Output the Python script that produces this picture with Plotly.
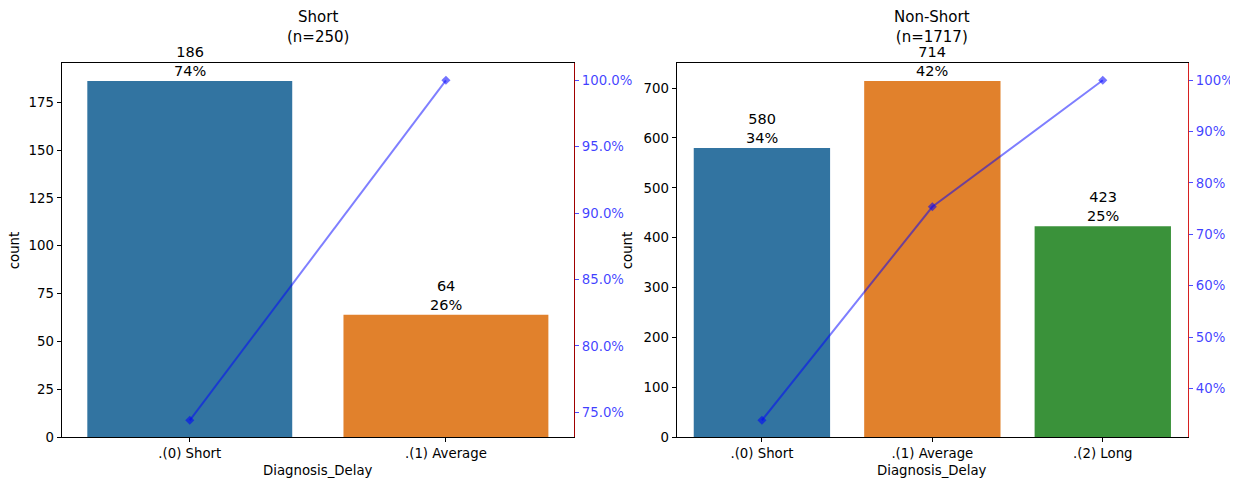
import numpy as np
import plotly.graph_objects as go

# ---- data ----
left_title = "Short"
left_categories = [".(0) Short", ".(1) Average"]
left_counts = [186, 64]

right_title = "Non-Short"
right_categories = [".(0) Short", ".(1) Average", ".(2) Long"]
right_counts = [580, 714, 423]

bar_colors = ["#3274a1", "#e1812c", "#3a923a"]
x_label = "Diagnosis_Delay"
y_label = "count"

FONT = "DejaVu Sans"
OFF = 8  # page body margin
W, H = 1238 - OFF, 483 - OFF

# plot area pixel boxes in page coords (left, top, right, bottom)
boxes = [(61.7, 63.3, 574.0, 437.3), (676.7, 63.3, 1188.0, 437.3)]


def fx(p):
    return (p - OFF) / W


def fy(p):
    return (H - (p - OFF)) / H


fig = go.Figure()
annotations = []

panels = [
    (left_title, left_categories, left_counts, ".1%", 0.05, 25, "#a00000"),
    (right_title, right_categories, right_counts, ".0%", 0.10, 100, "#d62020"),
]

for i, (title, cats, counts, fmt, dtick, ydtick, spine_col) in enumerate(panels):
    counts = np.array(counts)
    total = counts.sum()
    shares = counts / total
    cum = np.cumsum(counts) / total
    xa = "x" if i == 0 else "x2"
    ya = "y" if i == 0 else "y3"
    ya2 = "y2" if i == 0 else "y4"
    n = len(cats)

    fig.add_trace(go.Bar(
        x=cats, y=counts, marker=dict(color=bar_colors[:n], line=dict(width=0)),
        width=0.8, xaxis=xa, yaxis=ya, showlegend=False, hoverinfo="x+y",
    ))
    fig.add_trace(go.Scatter(
        x=cats, y=cum, mode="lines+markers", xaxis=xa, yaxis=ya2,
        line=dict(color="rgba(0,0,255,0.5)", width=2),
        marker=dict(symbol="diamond", size=7, color="rgba(0,0,255,0.55)",
                    line=dict(width=0)),
        showlegend=False,
    ))

    for c, v, s in zip(cats, counts, shares):
        annotations.append(dict(
            x=c, y=v, xref=xa, yref=ya, text=f"{v}<br>{s:.0%}",
            showarrow=False, yanchor="bottom", xanchor="center",
            font=dict(family=FONT, size=14.5, color="black"), yshift=0,
        ))

    l, t, r, b = boxes[i]
    cx = (l + r) / 2
    annotations.append(dict(
        x=fx(cx), y=fy(27), xref="paper", yref="paper",
        text=f"{title}<br>(n={total})", showarrow=False, yanchor="middle",
        xanchor="center", font=dict(family=FONT, size=15, color="black"),
        borderpad=0,
    ))
    annotations.append(dict(
        x=fx(cx), y=fy(470), xref="paper", yref="paper",
        text=x_label, showarrow=False, yanchor="middle", xanchor="center",
        font=dict(family=FONT, size=13.3, color="black"),
    ))
    ycount_x = 14 if i == 0 else 627
    annotations.append(dict(
        x=fx(ycount_x), y=fy((t + b) / 2), xref="paper", yref="paper",
        text=y_label, showarrow=False, textangle=-90, yanchor="middle",
        xanchor="center", font=dict(family=FONT, size=13.3, color="black"),
        borderpad=0,
    ))

    ymax = counts.max() * 1.05
    lo, hi = cum.min(), cum.max()
    pad = (hi - lo) * 0.05
    xkey = "xaxis" if i == 0 else "xaxis2"
    ykey = "yaxis" if i == 0 else "yaxis3"
    y2key = "yaxis2" if i == 0 else "yaxis4"
    fig.layout[xkey] = dict(
        domain=[fx(l), fx(r)], anchor=ya, type="category", automargin=False,
        range=[-0.5, n - 0.5], showline=True, mirror=True, linecolor="black",
        linewidth=1.2, ticks="outside", ticklen=4, tickcolor="black",
        tickfont=dict(family=FONT, size=13.3, color="black"), showgrid=False,
        zeroline=False,
    )
    fig.layout[ykey] = dict(
        domain=[fy(b), fy(t)], anchor=xa, range=[0, ymax], showline=True,
        automargin=False, dtick=ydtick, tick0=0,
        linecolor="black", linewidth=1.2, ticks="outside", ticklen=4,
        tickcolor="black", tickfont=dict(family=FONT, size=13.3, color="black"),
        showgrid=False, zeroline=False,
    )
    fig.layout[y2key] = dict(
        overlaying=ya, side="right", anchor=xa, range=[lo - pad, hi + pad],
        automargin=False,
        tickformat=fmt, dtick=dtick, tick0=0, showline=True,
        linecolor=spine_col, linewidth=1.2, ticks="outside", ticklen=4,
        tickcolor="rgba(0,0,255,0.7)",
        tickfont=dict(family=FONT, size=13.3, color="rgba(0,0,255,0.75)"),
        showgrid=False, zeroline=False,
    )

fig.update_layout(
    width=W, height=H, margin=dict(l=0, r=0, t=0, b=0, autoexpand=False),
    paper_bgcolor="white", plot_bgcolor="white", bargap=0.2,
    annotations=annotations, font=dict(family=FONT),
)

fig.write_html("out.html")
